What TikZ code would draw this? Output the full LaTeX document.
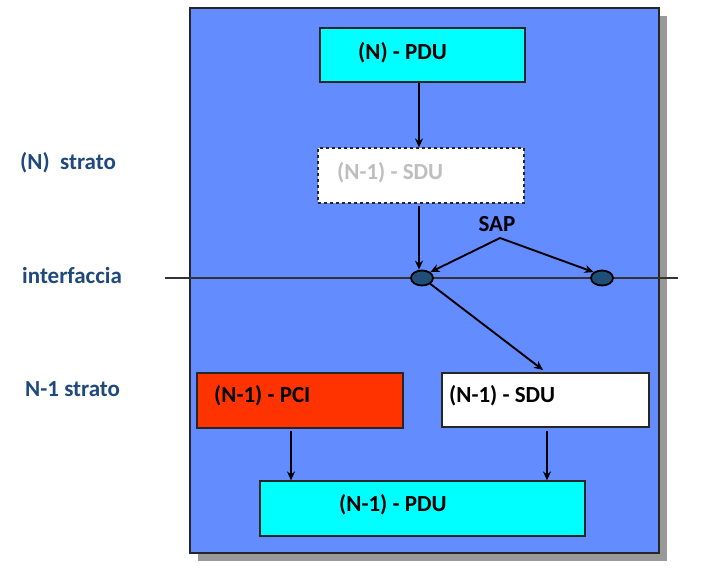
\documentclass[tikz,border=0pt]{standalone}
\usepackage{fontspec}
\setmainfont{Carlito}
\usetikzlibrary{arrows.meta,shapes.geometric}
\definecolor{panelblue}{RGB}{98,140,255}
\definecolor{shadowgray}{RGB}{153,153,153}
\definecolor{pcired}{RGB}{255,51,0}
\definecolor{boxcyan}{RGB}{0,255,255}
\definecolor{sapblue}{RGB}{31,78,121}
\definecolor{labelblue}{RGB}{31,73,125}
\definecolor{ghost}{RGB}{190,190,190}
\tikzset{
  x=1pt,y=-1pt,
  txt/.style={font=\fontsize{23}{26}\selectfont\bfseries,inner sep=0pt,anchor=west},
  lbl/.style={txt,text=labelblue},
  box/.style={draw=black!85,line width=1.2pt,inner sep=0pt},
  arr/.style={-{Stealth[length=9pt,width=8pt]},line width=1.9pt,black},
  sap/.style={ellipse,draw=black,line width=1.8pt,fill=sapblue,minimum width=22pt,minimum height=15pt,inner sep=0pt}
}
\begin{document}
\begin{tikzpicture}
\useasboundingbox (0,0) rectangle (722,568);
% shadow and panel
\fill[shadowgray] (198,16) rectangle (667,561);
\fill[panelblue] (190,8) rectangle (659,553);
\draw[black!85,line width=1.3pt] (190,8) rectangle (659,553);
% interface line
\coordinate (il) at (165,278);
\coordinate (ir) at (678,278);
\draw[black!80,line width=1.2pt] (il) -- (ir);
% boxes
\node[box,fill=boxcyan,minimum width=205pt,minimum height=54pt] (npdu) at (422.5,55) {};
\node[txt] (tnpdu) at (358,53) {(N) - PDU};
\node[box,fill=white,dashed,minimum width=206pt,minimum height=55pt] (sdu1) at (421,175.5) {};
\node[txt,text=ghost] (tsdu1) at (337,173) {(N-1) - SDU};
\node[box,fill=pcired,minimum width=206pt,minimum height=55pt] (pci) at (300,400.5) {};
\node[txt] (tpci) at (214,396) {(N-1) - PCI};
\node[box,fill=white,minimum width=207pt,minimum height=54pt] (sdu2) at (545.5,400) {};
\node[txt] (tsdu2) at (449,396) {(N-1) - SDU};
\node[box,fill=boxcyan,minimum width=325pt,minimum height=55pt] (pdu2) at (422.5,508.5) {};
\node[txt] (tpdu2) at (339,505) {(N-1) - PDU};
% SAP
\node[sap] (s1) at (422,278) {};
\node[sap] (s2) at (602,278) {};
\node[txt,anchor=center] (tsap) at (497,224) {SAP};
% left labels
\node[lbl] (l1) at (20,163) {(N)\ \ strato};
\node[lbl] (l2) at (22,276) {interfaccia};
\node[lbl] (l3) at (25,389) {N-1 strato};
% arrows
\draw[arr] (npdu.south -| 419,0) -- (sdu1.north -| 419,0);
\draw[arr] (419,206) -- (s1.north -| 419,0);
\draw[arr] (500,238) -- (s1.north east);
\draw[arr] (500,238) -- (s2.north west);
\draw[arr] (s1.south east) -- (543,370);
\draw[arr] (291,431) -- (pdu2.north -| 291,0);
\draw[arr] (547,431) -- (pdu2.north -| 547,0);
\end{tikzpicture}
\end{document}
